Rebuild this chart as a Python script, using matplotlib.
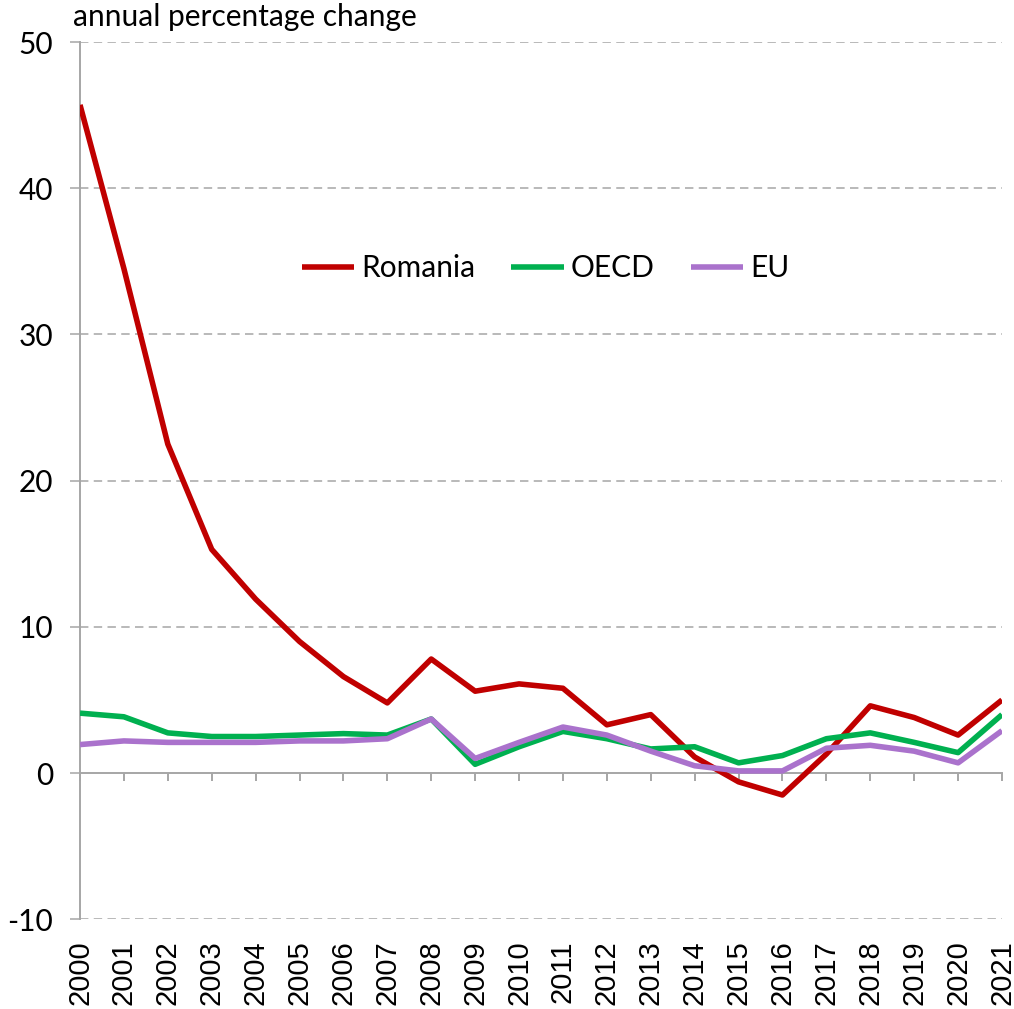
import matplotlib
matplotlib.use("Agg")
import matplotlib.pyplot as plt
import matplotlib.transforms as mtransforms

years = list(range(2000, 2022))
romania = [45.7, 34.5, 22.5, 15.3, 11.9, 9.0, 6.6, 4.8, 7.8, 5.6, 6.1, 5.8,
           3.3, 4.0, 1.1, -0.6, -1.5, 1.3, 4.6, 3.8, 2.6, 5.0]
oecd = [4.1, 3.85, 2.75, 2.5, 2.5, 2.6, 2.7, 2.6, 3.7, 0.6, 1.8, 2.85,
        2.35, 1.65, 1.8, 0.7, 1.2, 2.35, 2.75, 2.1, 1.4, 4.0]
eu = [1.95, 2.2, 2.1, 2.1, 2.1, 2.2, 2.2, 2.35, 3.7, 1.0, 2.1, 3.15,
      2.6, 1.5, 0.5, 0.15, 0.15, 1.7, 1.9, 1.5, 0.7, 2.9]
series_names = ["Romania", "OECD", "EU"]
colors = ["#C00000", "#00B050", "#AA72CC"]
yticks = [-10, 0, 10, 20, 30, 40, 50]

GRAY = "#A6A6A6"
MAIN_FONT = ["Lato", "DejaVu Sans"]
YEAR_FONT = ["Liberation Sans", "DejaVu Sans"]

fig = plt.figure(figsize=(10.14, 10.09), dpi=100)
ax = fig.add_axes([80 / 1014, 1 - 919.3 / 1009, 922 / 1014, 877.3 / 1009])

for name, vals, c in zip(series_names, [romania, oecd, eu], colors):
    ax.plot(years, vals, color=c, lw=4.0, label=name, solid_joinstyle="round",
            solid_capstyle="butt", zorder=3)

ax.set_xlim(2000, 2021)
ax.set_ylim(-10, 50)

# y grid (dashed) except at zero
for yv in yticks:
    if yv != 0:
        ax.axhline(yv, color=GRAY, lw=1.1, dashes=(5.5, 3.5), zorder=1)

ax.set_yticks(yticks)
ax.set_yticklabels([str(v) for v in yticks], fontfamily=MAIN_FONT, fontsize=21.5)
ax.tick_params(axis="y", direction="out", length=7.5, width=1.1, color=GRAY, pad=12)

ax.spines["top"].set_visible(False)
ax.spines["right"].set_visible(False)
ax.spines["left"].set_color(GRAY)
ax.spines["left"].set_linewidth(1.4)
ax.spines["bottom"].set_position(("data", 0))
ax.spines["bottom"].set_color(GRAY)
ax.spines["bottom"].set_linewidth(1.4)

ax.set_xticks(years)
ax.tick_params(axis="x", direction="out", length=6, width=1.4, color=GRAY,
               labelbottom=False)

trans = mtransforms.blended_transform_factory(ax.transData, ax.transAxes)
for yr in years:
    ax.text(yr, -0.024, str(yr), transform=trans, rotation=90, ha="center",
            va="top", fontsize=21, fontfamily=YEAR_FONT, color="black")

ax.text(-0.008, 1.012, "annual percentage change", transform=ax.transAxes,
        ha="left", va="bottom", fontsize=21.5, fontfamily=MAIN_FONT)

leg = ax.legend(loc="center", bbox_to_anchor=(0.505, 0.742), ncol=3,
                frameon=False, handlelength=1.75, handletextpad=0.25,
                columnspacing=1.2, prop={"family": MAIN_FONT, "size": 21.5})

fig.savefig("out.png", dpi=100)
